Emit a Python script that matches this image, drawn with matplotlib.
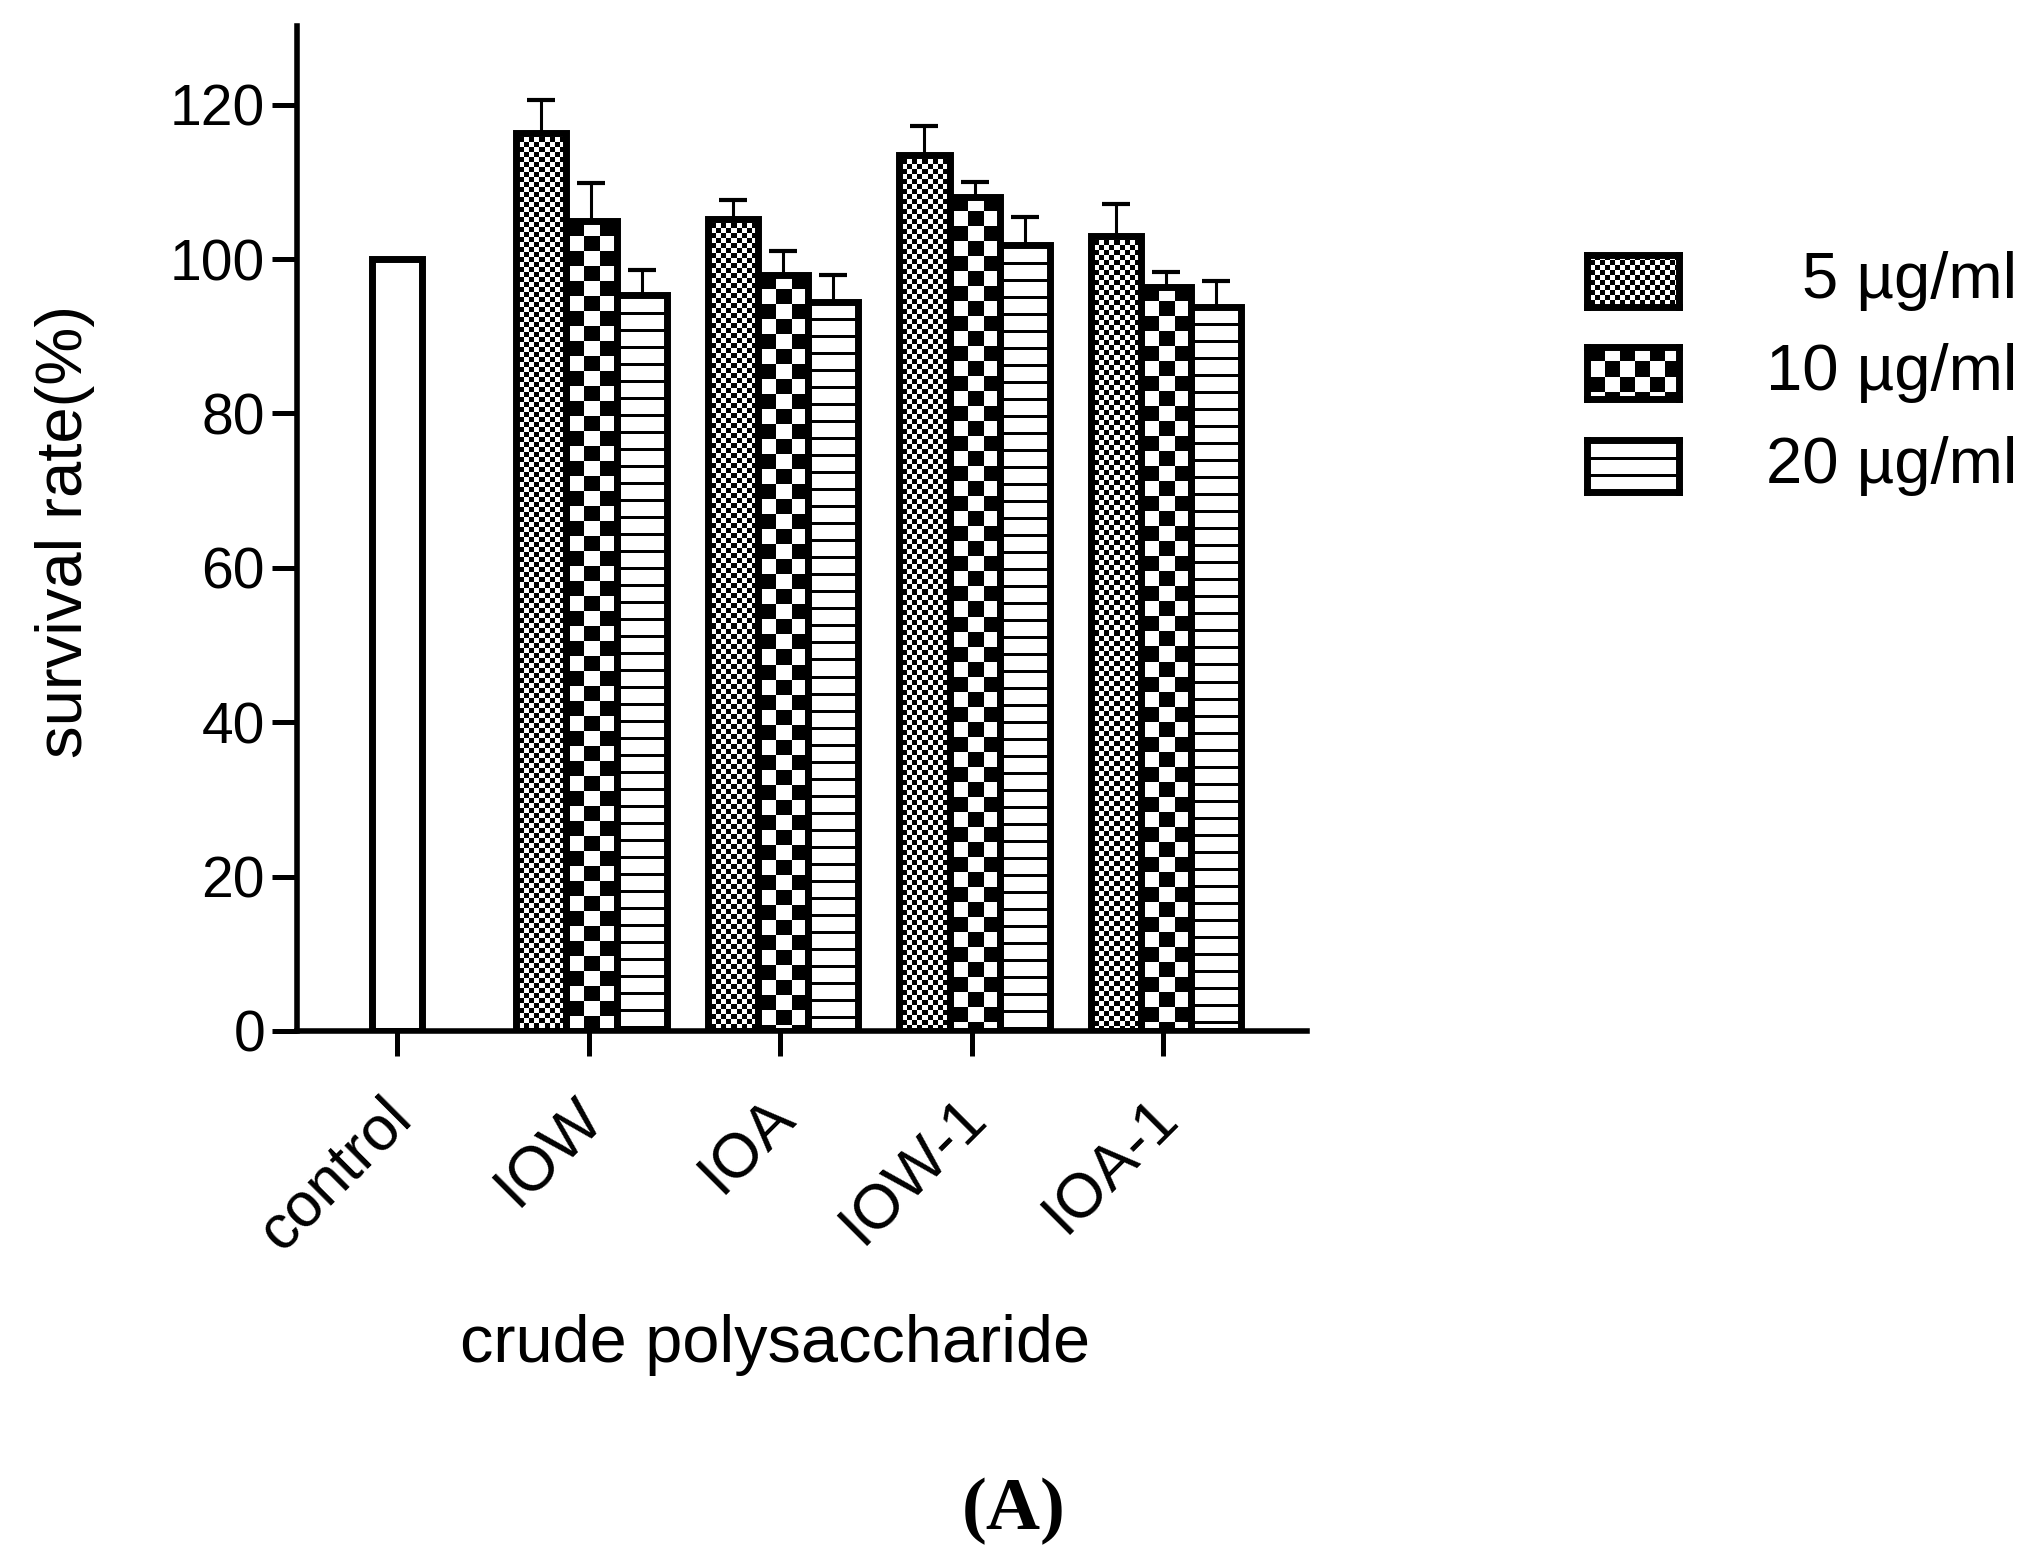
"""Survival rate of cells treated with crude polysaccharides at three doses."""

import matplotlib

matplotlib.use("Agg")
import matplotlib.pyplot as plt
import numpy as np
from matplotlib.transforms import ScaledTranslation

groups = ["control", "IOW", "IOA", "IOW-1", "IOA-1"]
doses = ["5 µg/ml", "10 µg/ml", "20 µg/ml"]
control_rate = [100.0]
rate_5 = [116.4, 105.2, 113.5, 103.0]
rate_10 = [104.9, 98.0, 108.1, 96.4]
rate_20 = [95.3, 94.5, 101.8, 93.8]
err_5 = [4.2, 2.4, 3.7, 4.2]
err_10 = [4.9, 3.1, 1.9, 1.9]
err_20 = [3.3, 3.5, 3.7, 3.4]
yticks = [0, 20, 40, 60, 80, 100, 120]

W, H, DPI = 2043, 1566, 100
BAR_W = 0.262
EDGE_LW = 5.0

plt.rcParams["font.family"] = ["Liberation Sans", "DejaVu Sans"]


def fine_checker(ny, nx, off=0):
    y, x = np.mgrid[0:ny, 0:nx]
    return (((x - off) // 5 + y // 5) % 2).astype(float)


def coarse_checker(ny, nx, off=0):
    y, x = np.mgrid[0:ny, 0:nx]
    return (((x - off) // 15 + y // 15 + 1) % 2).astype(float)


def stripes(ny, nx, off=0):
    y, x = np.mgrid[0:ny, 0:nx]
    return ((y % 17) < 3).astype(float)


patterns = [fine_checker, coarse_checker, stripes]


def fill_pattern(ax, patch, pattern):
    """Paint a pixel pattern inside a bar, clipped to its outline."""
    x0, y0 = patch.get_x(), patch.get_y()
    x1, y1 = x0 + patch.get_width(), y0 + patch.get_height()
    (px0, py0), (px1, py1) = ax.transData.transform([(x0, y0), (x1, y1)])
    nx, ny = int(round(px1 - px0)), int(round(py1 - py0))
    off = int(round(EDGE_LW * DPI / 72 / 2))
    arr = pattern(ny, nx, off)
    im = ax.imshow(arr, cmap="gray_r", vmin=0, vmax=1, extent=(x0, x1, y0, y1),
                   origin="upper", interpolation="nearest", aspect="auto", zorder=2)
    im.set_clip_path(patch)


fig = plt.figure(figsize=(W / DPI, H / DPI), dpi=DPI)
ax = fig.add_axes([297 / W, 1 - 1031 / H, (1307 - 297) / W, (1031 - 26) / H])
ax.set_xlim(-0.522, 4.75)
ax.set_ylim(0, 130.2)

# control bar
ax.bar([0], control_rate, width=BAR_W, facecolor="none", edgecolor="black",
       linewidth=EDGE_LW, joinstyle="miter", zorder=3)

x = np.arange(1, len(groups))
series = [(rate_5, err_5), (rate_10, err_10), (rate_20, err_20)]
for k, (rates, errs) in enumerate(series):
    xs = x + (k - 1) * BAR_W + 0.015
    bars = ax.bar(xs, rates, width=BAR_W, facecolor="none", edgecolor="black",
                  linewidth=EDGE_LW, joinstyle="miter", zorder=3)
    for patch in bars.patches:
        fill_pattern(ax, patch, patterns[k])
    ax.errorbar(xs, rates, yerr=[np.zeros(len(errs)), errs], fmt="none",
                ecolor="black", elinewidth=2.2, capsize=10, capthick=3, zorder=4)

ax.set_xlim(-0.522, 4.75)
ax.set_ylim(0, 130.2)

for side in ["top", "right"]:
    ax.spines[side].set_visible(False)
for side in ["left", "bottom"]:
    ax.spines[side].set_linewidth(4)

ax.set_yticks(yticks)
ax.set_xticks(range(len(groups)))
ax.set_xticklabels(groups, rotation=45, ha="right", va="baseline", rotation_mode="anchor")
ax.tick_params(axis="both", length=18, width=3.6, direction="out")
ax.tick_params(axis="y", labelsize=41, pad=5)
ax.tick_params(axis="x", labelsize=45, pad=46)
shift = ScaledTranslation(17 / DPI, 0, fig.dpi_scale_trans)
for lab in ax.get_xticklabels():
    lab.set_transform(lab.get_transform() + shift)

fig.text(65 / W, 1 - 531 / H, "survival rate(%)", rotation=90, ha="center",
         va="center", fontsize=47)
fig.text(775 / W, 1 - 1345 / H, "crude polysaccharide", ha="center", va="center",
         fontsize=48)
fig.text(1014 / W, 1 - 1511 / H, "(A)", ha="center", va="center", fontsize=54,
         family=["Liberation Serif", "DejaVu Serif"], weight="bold")

# legend drawn by hand so the swatches carry the pixel patterns
box_tops = [255, 347, 440]
for top, label, pattern in zip(box_tops, doses, patterns):
    lax = fig.add_axes([1587 / W, 1 - (top + 52) / H, 92 / W, 52 / H])
    lax.imshow(pattern(52, 92, 3), cmap="gray_r", vmin=0, vmax=1,
               interpolation="nearest", aspect="auto")
    lax.set_xticks([])
    lax.set_yticks([])
    for sp in lax.spines.values():
        sp.set_linewidth(EDGE_LW)
    fig.text(2017 / W, 1 - (top + 26) / H, label, ha="right", va="center", fontsize=47)

fig.savefig("out.png", dpi=DPI)
plt.close(fig)
